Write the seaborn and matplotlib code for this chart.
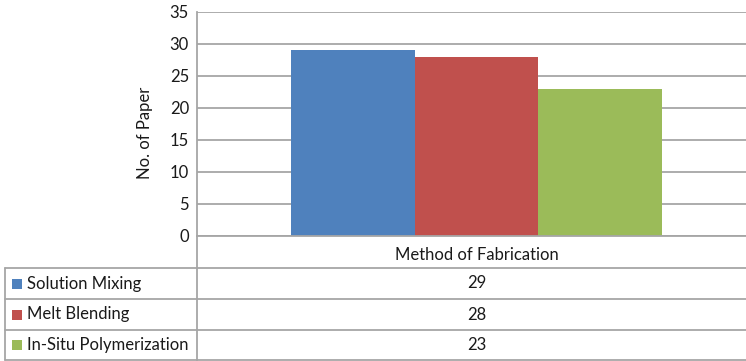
import matplotlib
matplotlib.use("Agg")
import matplotlib.pyplot as plt
import seaborn as sns
import pandas as pd
from matplotlib.lines import Line2D
from matplotlib.patches import Rectangle

# Chart data
categories = ["Method of Fabrication"]
series = ["Solution Mixing", "Melt Blending", "In-Situ Polymerization"]
values = [29, 28, 23]
colors = ["#4F81BD", "#C0504D", "#9BBB59"]
yticks = [0, 5, 10, 15, 20, 25, 30, 35]

df = pd.DataFrame({
    "category": categories * len(series),
    "series": series,
    "count": values,
})

sns.set_style("white")
plt.rcParams["font.family"] = ["Lato", "DejaVu Sans"]

W, H = 746, 361
fig = plt.figure(figsize=(W / 100, H / 100), dpi=100)

def fx(px):
    return px / W

def fy(py):
    return 1 - py / H

grid_col = "#A6A6A6"
text_col = "#1a1a1a"
fs = 12

# Plot area (its right edge runs just past the figure border)
left, right, top, bottom = 197, 756, 12, 236
ax = fig.add_axes([fx(left), fy(bottom), fx(right - left), fy(top) - fy(bottom)])

sns.barplot(data=df, x="category", y="count", hue="series", palette=colors,
            width=0.664, saturation=1, ax=ax, legend=False, edgecolor="none")

ax.set_xlim(-0.5, 0.5)
ax.set_ylim(0, 35)
ax.set_yticks(yticks)
ax.set_yticklabels([str(t) for t in yticks], fontsize=fs, color=text_col)
ax.yaxis.grid(True, color=grid_col, linewidth=1.3)
ax.set_axisbelow(True)
ax.tick_params(axis="y", length=0, pad=5.8)
ax.tick_params(axis="x", length=0, pad=8, labelsize=fs, labelcolor=text_col)
ax.set_xlabel("")
ax.set_ylabel("No. of Paper", fontsize=fs, color=text_col, va="center")
ax.yaxis.set_label_coords((145 - left) / (right - left), (bottom - 133) / (bottom - top))
for s in ["top", "right"]:
    ax.spines[s].set_visible(False)
for s in ["left", "bottom"]:
    ax.spines[s].set_color(grid_col)
    ax.spines[s].set_linewidth(1.3)

# Data table under the plot area
lw = 1.3
row_lines = [268, 299, 330, 360]
table_left = 5

def hline(y, x0, x1):
    fig.add_artist(Line2D([fx(x0), fx(x1)], [fy(y), fy(y)], color=grid_col, lw=lw))

def vline(x, y0, y1):
    fig.add_artist(Line2D([fx(x), fx(x)], [fy(y0), fy(y1)], color=grid_col, lw=lw))

for y in row_lines:
    hline(y, table_left, W)
vline(left, bottom, H)
vline(table_left, row_lines[0], row_lines[-1])

center_x = (left + right) / 2
for i, (name, val, col) in enumerate(zip(series, values, colors)):
    y0, y1 = row_lines[i], row_lines[i + 1]
    yc = (y0 + y1) / 2
    sq = 10
    fig.add_artist(Rectangle((fx(12), fy(yc + sq / 2)), fx(sq), fy(yc - sq / 2) - fy(yc + sq / 2),
                             facecolor=col, edgecolor="none", transform=fig.transFigure))
    fig.text(fx(27), fy(yc), name, ha="left", va="center", fontsize=fs, color=text_col)
    fig.text(fx(center_x), fy(yc), str(val), ha="center", va="center", fontsize=fs, color=text_col)

fig.savefig("out.png", dpi=100, facecolor="white")
